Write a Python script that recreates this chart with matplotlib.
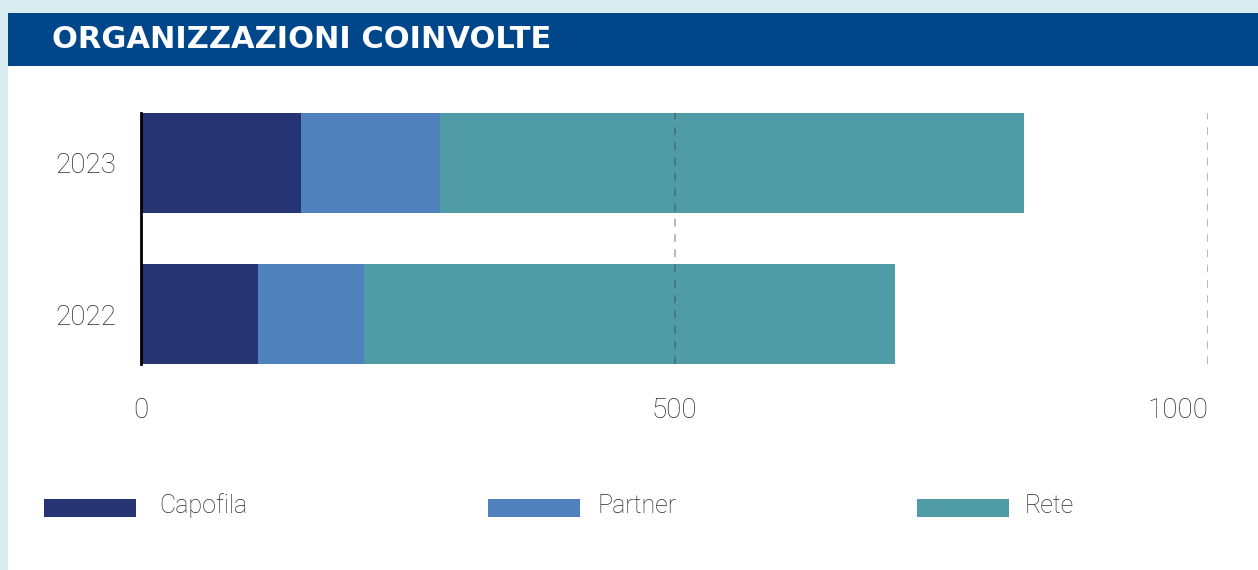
import matplotlib.pyplot as plt
from matplotlib.patches import Rectangle

years = ['2022', '2023']
capofila = [110, 150]
partner = [99, 130]
rete = [498, 548]
series = ['Capofila', 'Partner', 'Rete']
colors = ['#263473', '#4f81bd', '#4f9ca6']
ticks = [0, 500, 1000]

plt.rcParams['font.family'] = ['Roboto', 'DejaVu Sans']
label_weight = 'light'
text_color = '#2b2b2b'

W, H = 1258, 570
fig = plt.figure(figsize=(W / 100, H / 100), dpi=100)
fig.patch.set_facecolor('#d9ecef')

# white card + header band
fig.add_artist(Rectangle((8 / W, 0), 1, 1 - 13 / H, transform=fig.transFigure,
                         facecolor='white', edgecolor='none', zorder=0))
fig.add_artist(Rectangle((8 / W, 1 - 66 / H), 1, 53 / H, transform=fig.transFigure,
                         facecolor='#00468b', edgecolor='none', zorder=0))
fig.text(52 / W, 1 - 40 / H, 'ORGANIZZAZIONI COINVOLTE', color='white',
         fontsize=22, fontweight='bold', va='center', ha='left',
         family=['DejaVu Sans'])

ax = fig.add_axes([141 / W, (H - 364) / H, (1208 - 141) / W, 251 / H])
ax.set_facecolor('none')

pos = list(range(len(years)))
left = [0] * len(years)
for name, vals, c in zip(series, [capofila, partner, rete], colors):
    ax.barh(pos, vals, left=left, height=0.662, color=c, label=name, zorder=2)
    left = [l + v for l, v in zip(left, vals)]

ax.set_xlim(0, 1000)
ax.set_ylim(-0.331, 1.331)
for t in ticks[1:]:
    ax.axvline(t, color='#333333', alpha=0.45, lw=1.1, ls=(0, (5, 5)), zorder=3)

for s in ['top', 'right', 'bottom']:
    ax.spines[s].set_visible(False)
ax.spines['left'].set_color('black')
ax.spines['left'].set_linewidth(2)
ax.spines['left'].set_zorder(4)

ax.set_yticks(pos)
ax.set_yticklabels(years, fontsize=20, color=text_color, fontweight=label_weight)
ax.tick_params(axis='y', length=0, pad=18)
for lab in ax.get_yticklabels():
    lab.set_va('center_baseline')
ax.set_xticks(ticks)
ax.set_xticklabels([str(t) for t in ticks], fontsize=20, color=text_color,
                   fontweight=label_weight)
ax.tick_params(axis='x', length=0, pad=24)
ax.get_xticklabels()[-1].set_ha('right')

# legend
legend_x = [44, 488, 917]
text_x = [159, 597, 1025]
for name, c, bx, tx in zip(series, colors, legend_x, text_x):
    fig.add_artist(Rectangle((bx / W, (H - 517) / H), 92 / W, 18 / H,
                             transform=fig.transFigure, facecolor=c, edgecolor='none'))
    fig.text(tx / W, (H - 506) / H, name, fontsize=18, color=text_color,
             fontweight=label_weight, va='center', ha='left')

fig.savefig('out.png', dpi=100)
